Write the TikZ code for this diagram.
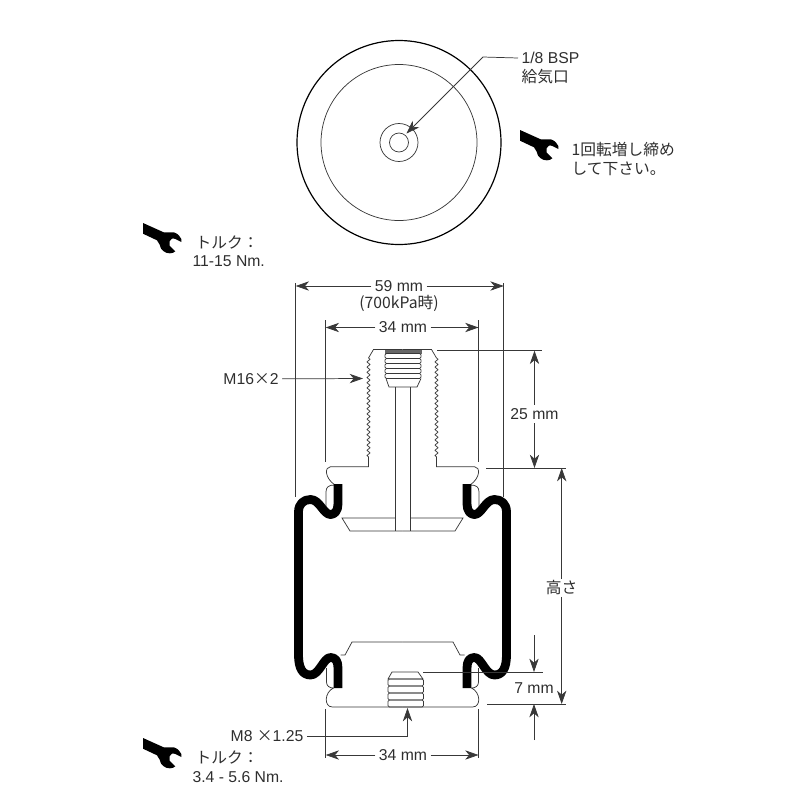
\documentclass[tikz,border=0pt]{standalone}
\usepackage{fontspec}
\setmainfont{Liberation Sans}
\newfontfamily\jp{Noto Sans CJK JP}
\usetikzlibrary{arrows.meta,decorations.pathmorphing}

\begin{document}
\begin{tikzpicture}[x=0.75pt,y=-0.75pt,>={Stealth[length=10pt,width=7pt,inset=3pt]},
	line/.style = {draw=black!78,line width=0.55pt},
	dim/.style = {line,->},
	rubber/.style = {draw=black,line width=6.6pt,line join=round},
	thread/.style = {line,line join=round,decorate,decoration={zigzag,segment length=3.9pt,amplitude=1.2pt}},
	ridge/.style = {line,rounded corners=1pt},
	txt/.style = {text=black!82,font=\fontsize{11.8pt}{14pt}\selectfont,inner sep=2.5pt},
	wrench/.pic = {\fill[black] (0,0) -- (20.7,9.3) -- (30.7,9.3) .. controls (35,11) .. (38.3,16) -- (38.3,19) -- (32.3,16) .. controls (29,15) .. (26.7,18.3) -- (26.7,22.7) -- (32.3,28.3) .. controls (30,31) and (24,31) .. (20.7,28.3) .. controls (18,26) .. (16.7,21.7) -- (14,17.3) -- (0,10.7) -- cycle;}
	]
	\useasboundingbox (0,0) rectangle (800,800);
	%VISTA DALL'ALTO
	\coordinate (@c) at (399,142.5);
	\draw[draw=black,line width=0.9pt] (@c) circle (102);
	\draw[line] (@c) circle (78);
	\draw[line] (@c) circle (19);
	\draw[line] (@c) circle (9.5);
	\node[txt,anchor=west] (@bsp) at (518,58) {1/8 BSP};
	\node[txt,anchor=west] (@port) at (518,77) {\jp 給気口};
	\coordinate (@bend) at (483,57);
	\coordinate (@ctip) at (406.5,133.5);
	\draw[dim] (@bsp.west) -- (@bend) -- (@ctip);
	%CHIAVI
	\pic (@w1) at (520,130) {wrench};
	\pic (@w2) at (143,223) {wrench};
	\pic (@w3) at (143,738) {wrench};
	\node[txt,anchor=west] (@turn1) at (568,150) {\jp 1回転増し締め};
	\node[txt,anchor=west] (@turn2) at (568,169) {\jp して下さい。};
	\node[txt,anchor=west] (@torq1) at (192,242) {\jp トルク：};
	\node[txt,anchor=west] (@torq2) at (189,261) {11-15 Nm.};
	\node[txt,anchor=west] (@torq3) at (192,757) {\jp トルク：};
	\node[txt,anchor=west] (@torq4) at (189,777) {3.4 - 5.6 Nm.};
	%SEZIONE, METALLO
	\foreach \s in {1,-1} {
	\begin{scope}[shift={(402.5,0)},xscale=\s]
		\draw[line] (0,349.5) -- (29,349.5) -- (34,358);
		\draw[thread] (34,358) -- (34,457);
		\draw[line] (34,457) -- (34,466.7) -- (72,466.7) .. controls (78,466.7) and (78,478) .. (67.5,485);
		\draw[line] (67.5,485) .. controls (74,485) and (76.5,487) .. (76.5,492) -- (76.5,507);
		\draw[line] (7.5,518) -- (60.5,518) -- (52.5,531) -- (0,531);
		\draw[line] (7.5,387) -- (7.5,531);
		\draw[line] (62,655) -- (57.5,655) -- (50.5,642) -- (0,642);
		\draw[line] (76,668) -- (76,682) .. controls (76,686) and (73,688) .. (69,688) .. controls (78,692) and (79,707) .. (70,707) -- (0,707);
		%GOMMA
		\draw[rubber] (64.5,484) -- (64.5,504) .. controls (64.5,511) and (68,514.5) .. (72,514.5) .. controls (79,514.5) and (83,499.5) .. (92,499.5) .. controls (99,499.5) and (104,504) .. (104,512) -- (104,655) .. controls (104,668) and (100,675) .. (92,675) .. controls (83,675) and (79,657.5) .. (72,657.5) .. controls (67,657.5) and (64.5,661) .. (64.5,668) -- (64.5,688);
	\end{scope}
	}
	%FILETTI
	\fill[black!60] (385,350) rectangle (422,353.5);
	\foreach \y in {353.5,358.5,363.5,368.5,373.5} {
		\draw[ridge] (385,\y) rectangle (421,\y+5);
	}
	\draw[line] (386,378.5) -- (389,387) -- (417,387) -- (421,378.5);
	\draw[line] (392,672) -- (418,672) -- (423,679) -- (388,679) -- cycle;
	\foreach \y in {679,686,693,700} {
		\draw[ridge] (388,\y) rectangle (423.5,\y+7);
	}
	%QUOTE
	\coordinate (@a1) at (295.7,283);
	\coordinate (@a2) at (295.7,497);
	\coordinate (@b1) at (503.7,283);
	\coordinate (@b2) at (503.7,497);
	\draw[line] (@a1) -- (@a2);
	\draw[line] (@b1) -- (@b2);
	\coordinate (@c1) at (325.7,320);
	\coordinate (@c2) at (325.7,462);
	\coordinate (@d1) at (478.5,320);
	\coordinate (@d2) at (478.5,462);
	\draw[line] (@c1) -- (@c2);
	\draw[line] (@d1) -- (@d2);
	\node[txt] (@t59) at (399,286) {59 mm};
	\node[txt] (@t700) at (399,303) {\jp (700kPa時)};
	\draw[dim] (@t59) -- (@a1 |- @t59);
	\draw[dim] (@t59) -- (@b1 |- @t59);
	\node[txt] (@t34) at (403,327.5) {34 mm};
	\draw[dim] (@t34) -- (@c1 |- @t34);
	\draw[dim] (@t34) -- (@d1 |- @t34);
	\node[txt] (@m16) at (251,379) {M16{\jp ×}2};
	\coordinate (@m16tip) at (363,378.5);
	\draw[dim] (@m16) -- (@m16tip);
	\coordinate (@e1) at (437,350.7);
	\coordinate (@e2) at (542,350.7);
	\coordinate (@f1) at (486,468);
	\coordinate (@f2) at (566,468);
	\coordinate (@g1) at (423,672);
	\coordinate (@g2) at (543,672);
	\coordinate (@h1) at (487,704);
	\coordinate (@h2) at (566,704);
	\draw[line] (@e1) -- (@e2);
	\draw[line] (@f1) -- (@f2);
	\draw[line] (@g1) -- (@g2);
	\draw[line] (@h1) -- (@h2);
	\node[txt] (@t25) at (534.5,414) {25 mm};
	\draw[dim] (@t25) -- (@t25 |- @e1);
	\draw[dim] (@t25) -- (@t25 |- @f1);
	\node[txt,fill=white,inner sep=1pt] (@tH) at (561.7,588) {\jp 高さ};
	\draw[dim] (@tH) -- (@tH |- @f1);
	\draw[dim] (@tH) -- (@tH |- @h1);
	\coordinate (@i1) at (534,635);
	\coordinate (@i2) at (534,740);
	\draw[dim] (@i1) -- (@i1 |- @g1);
	\draw[dim] (@i2) -- (@i2 |- @h1);
	\node[txt] (@t7) at (534,688) {7 mm};
	\node[txt] (@m8) at (267,736) {M8 {\jp ×}1.25};
	\coordinate (@m8bend) at (407.5,736);
	\coordinate (@m8tip) at (407.5,708);
	\draw[dim] (@m8) -- (@m8bend) -- (@m8tip);
	\coordinate (@j1) at (325.7,709);
	\coordinate (@j2) at (325.7,758);
	\coordinate (@k1) at (478.5,709);
	\coordinate (@k2) at (478.5,758);
	\draw[line] (@j1) -- (@j2);
	\draw[line] (@k1) -- (@k2);
	\node[txt] (@t34b) at (403,755) {34 mm};
	\draw[dim] (@t34b) -- (@j1 |- @t34b);
	\draw[dim] (@t34b) -- (@k1 |- @t34b);
\end{tikzpicture}
\end{document}
